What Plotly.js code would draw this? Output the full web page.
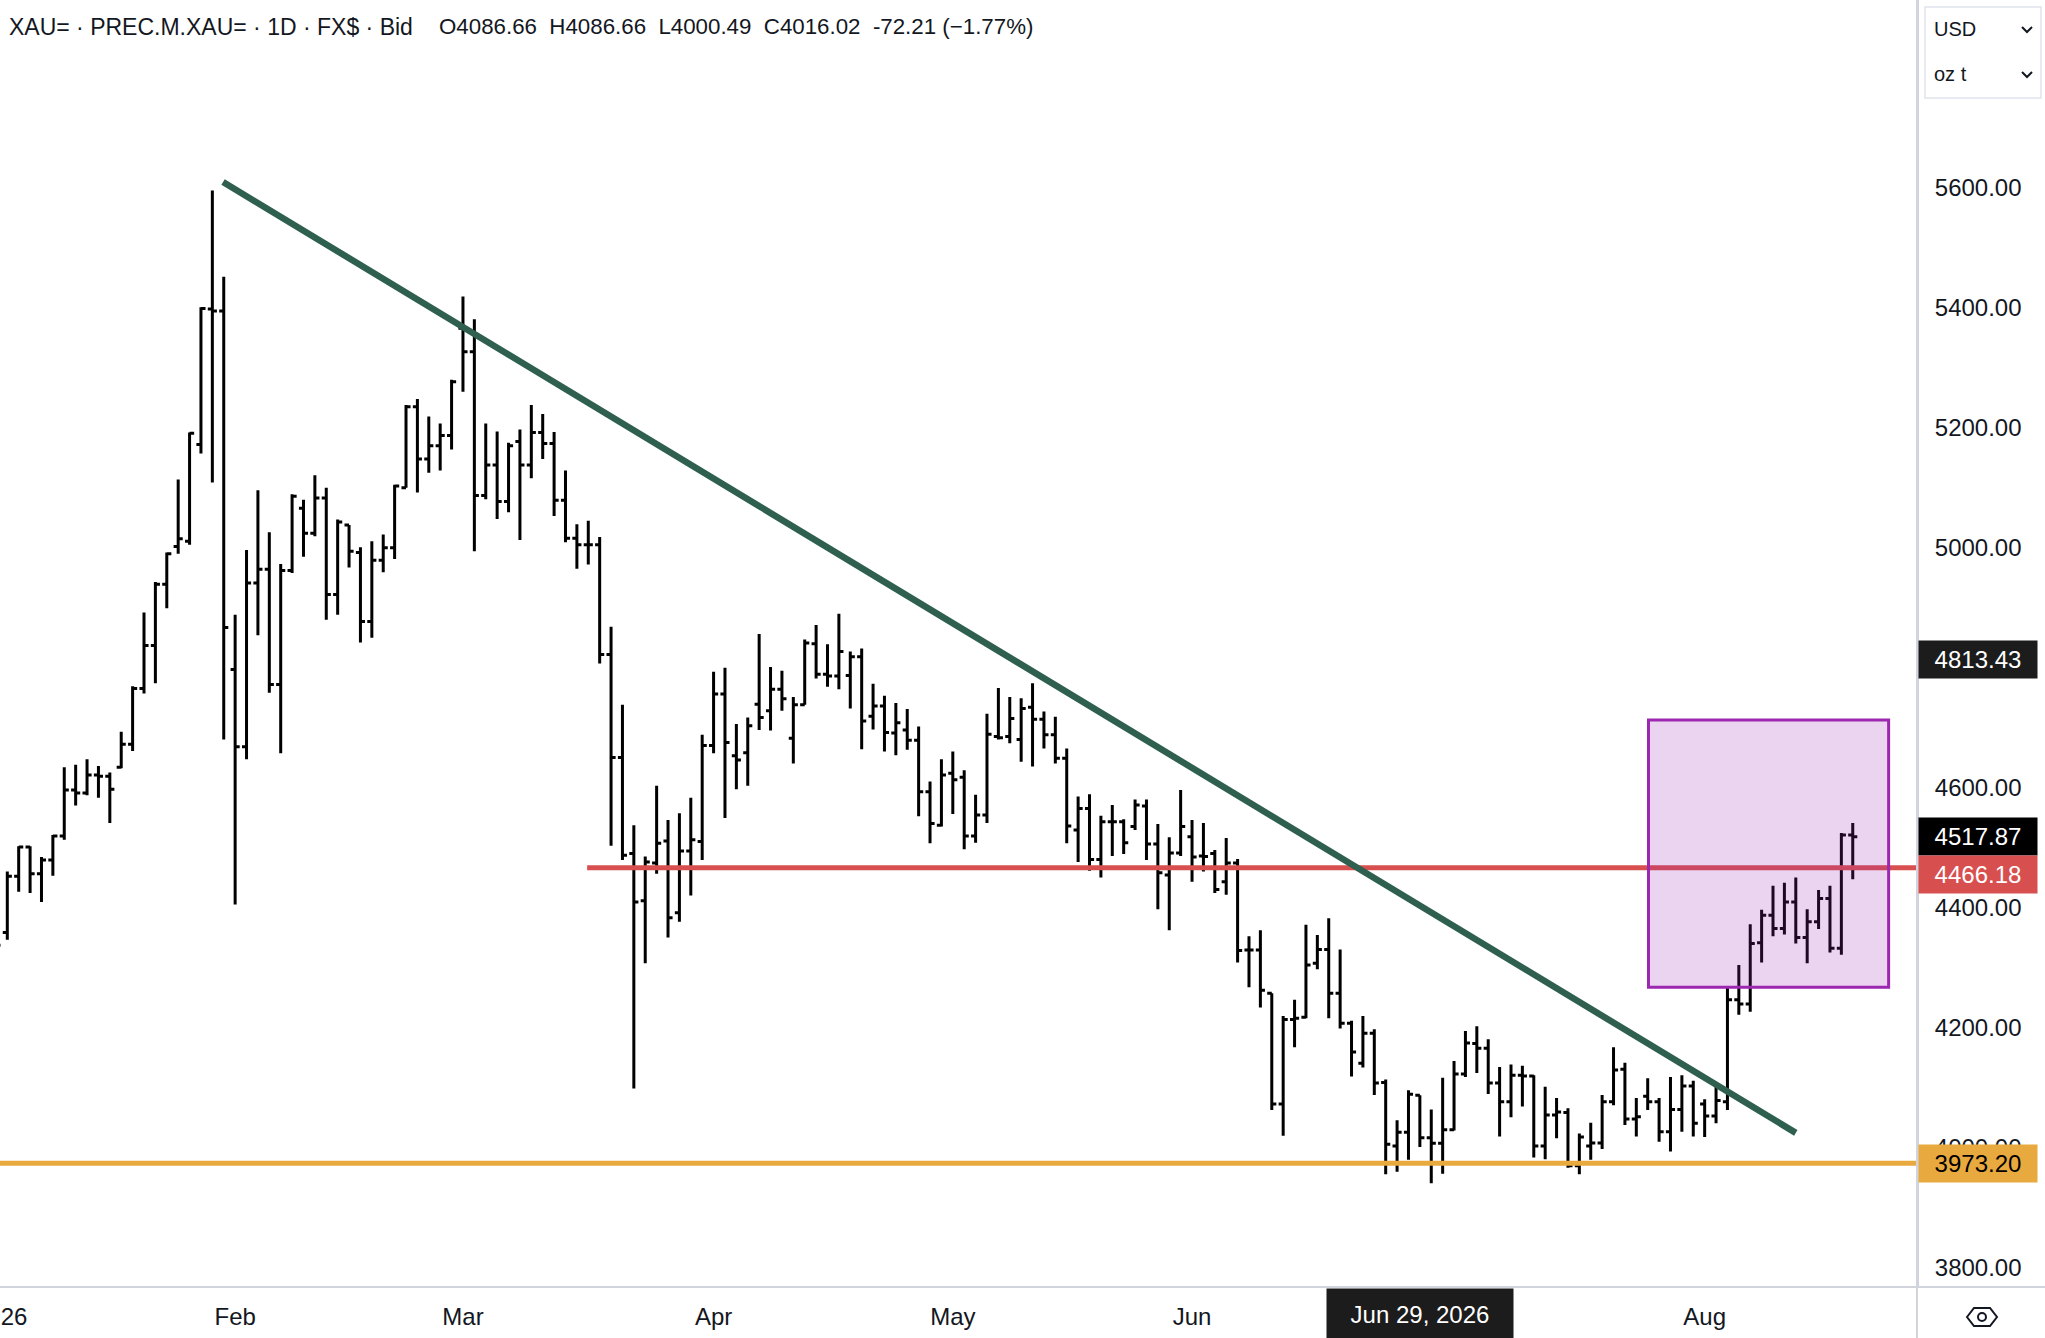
<!DOCTYPE html>
<html>
<head>
<meta charset="utf-8">
<script src="https://cdn.plot.ly/plotly-3.0.1.min.js"></script>
<style>
  html, body { margin: 0; padding: 0; background: #ffffff; }
  #chart { width: 2045px; height: 1338px; }
</style>
</head>
<body>
<div id="chart"></div>
<script>
// ---------------- DATA ----------------
const opens = [
  4320, 4358, 4452, 4501, 4456, 4479, 4519, 4596, 4591, 4621, 4619, 4634, 4672, 4765, 4837, 4939, 5002, 5011, 5172, 5398, 5395,
  4797, 4668, 4941, 4964, 4772, 4962, 5066, 5024, 5083, 4922, 5038, 4992, 4877, 4979, 5000, 5100, 5235, 5148, 5170, 5187,
  5366, 5327, 5087, 5138, 5077, 5177, 5138, 5192, 5174, 5079, 5016, 5005, 5005, 4822, 4650, 4490, 4411, 4474, 4511, 4391, 4494, 4510,
  4670, 4756, 4653, 4658, 4739, 4728, 4764, 4682, 4738, 4840, 4789, 4786, 4787, 4818, 4719, 4736, 4691, 4696, 4679, 4593, 4537,
  4624, 4617, 4519, 4554, 4685, 4685, 4680, 4734, 4714, 4688, 4649, 4529, 4565, 4480, 4543, 4543, 4535, 4569, 4506, 4454, 4491,
  4518, 4486, 4490, 4443, 4474, 4329, 4329, 4257, 4072, 4213, 4217, 4307, 4330, 4257, 4207, 4140, 4190, 4108, 4002, 4025, 4086.66, 4016,
  4006.5, 4029, 4122, 4173, 4165, 4107, 4076, 4120, 4119, 4002, 4054, 4058, 3969, 4002, 4007, 4076, 4130, 4047, 4085, 4076, 4026, 4063, 4102,
  4072, 4052, 4076, 4246, 4239, 4341, 4387, 4365, 4409, 4350, 4376, 4415, 4332, 4521
];
const highs = [
  4365, 4460, 4502, 4502, 4484, 4521, 4634, 4638, 4647, 4636, 4625, 4693, 4769, 4892, 4943, 4992, 5114, 5192, 5401, 5596, 5452,
  4888, 4996, 5096, 5026, 4973, 5089, 5080, 5121, 5100, 5047, 5038, 5001, 5011, 5022, 5105, 5238, 5248, 5219, 5207, 5280,
  5419, 5381, 5207, 5194, 5175, 5197, 5238, 5223, 5193, 5129, 5039, 5045, 5018, 4868, 4738, 4537, 4485, 4603, 4546, 4557, 4583, 4688,
  4793, 4800, 4706, 4717, 4856, 4801, 4795, 4751, 4847, 4871, 4839, 4890, 4827, 4832, 4773, 4753, 4741, 4731, 4702, 4610, 4647,
  4660, 4629, 4588, 4723, 4766, 4751, 4749, 4774, 4727, 4718, 4665, 4585, 4589, 4553, 4571, 4547, 4580, 4580, 4539, 4517, 4596,
  4546, 4541, 4496, 4516, 4481, 4352, 4362, 4257, 4219, 4246, 4371, 4354, 4382, 4330, 4211, 4219, 4197, 4113, 4045, 4095, 4086.66, 4063,
  4116, 4144, 4194, 4202, 4180, 4134, 4138, 4136, 4120, 4101, 4082, 4065, 4023, 4041, 4087, 4167, 4141, 4082, 4115, 4082, 4117, 4120, 4111,
  4080, 4108, 4268, 4304, 4372, 4396, 4436, 4441, 4450, 4397, 4429, 4436, 4524, 4541
];
const lows = [
  4300, 4346, 4426, 4424, 4409, 4453, 4513, 4570, 4587, 4583, 4541, 4632, 4661, 4757, 4774, 4899, 4990, 5005, 5157, 5109, 4680,
  4405, 4647, 4854, 4758, 4657, 4958, 4985, 5019, 4880, 4888, 4967, 4842, 4850, 4959, 4981, 5100, 5092, 5125, 5129, 5164,
  5260, 4994, 5081, 5048, 5059, 5013, 5116, 5148, 5053, 5009, 4965, 4972, 4807, 4503, 4479, 4098, 4307, 4456, 4350, 4376, 4420, 4479,
  4657, 4549, 4597, 4603, 4696, 4695, 4728, 4640, 4738, 4782, 4768, 4764, 4732, 4664, 4697, 4660, 4654, 4663, 4552, 4507, 4535,
  4556, 4497, 4508, 4541, 4680, 4674, 4643, 4635, 4665, 4640, 4507, 4476, 4461, 4450, 4486, 4489, 4529, 4479, 4397, 4362, 4486,
  4443, 4460, 4424, 4421, 4308, 4267, 4233, 4062, 4019, 4167, 4215, 4297, 4215, 4198, 4118, 4133, 4087, 3955, 3959, 3979, 4000.49, 3940,
  3956, 4028, 4117, 4124, 4089, 4018, 4050, 4068, 3983, 3980, 4015, 3966, 3955, 3979, 3997, 4070, 4037, 4018, 4062, 4009, 3993, 4026, 4018,
  4017, 4040, 4062, 4221, 4226, 4308, 4352, 4355, 4340, 4307, 4364, 4325, 4321, 4447
];
const closes = [
  4337, 4452, 4501, 4456, 4479, 4519, 4596, 4591, 4621, 4619, 4597, 4672, 4765, 4837, 4939, 4990, 5015, 5191, 5399, 5395, 4867,
  4668, 4941, 4964, 4772, 4962, 5086, 5024, 5083, 4922, 5043, 4994, 4877, 4979, 5000, 5103, 5235, 5148, 5170, 5187, 5277,
  5327, 5087, 5138, 5077, 5170, 5138, 5192, 5174, 5079, 5016, 5005, 5005, 4822, 4650, 4487, 4409, 4476, 4507, 4383, 4494, 4513, 4670,
  4756, 4675, 4646, 4703, 4717, 4764, 4748, 4738, 4841, 4789, 4786, 4827, 4818, 4711, 4736, 4692, 4708, 4679, 4593, 4540, 4621,
  4613, 4519, 4554, 4689, 4683, 4715, 4732, 4714, 4688, 4649, 4536, 4565, 4480, 4543, 4543, 4508, 4571, 4506, 4458, 4491, 4535,
  4484, 4485, 4430, 4474, 4328, 4329, 4262, 4072, 4213, 4215, 4304, 4330, 4257, 4207, 4159, 4190, 4107, 4005, 4025, 4088.23, 4016.02, 4006.5,
  4029, 4122, 4174, 4165, 4107, 4076, 4120, 4119, 4002, 4054, 4059, 3969, 4017, 4007, 4076, 4129, 4047, 4051, 4076, 4026, 4063, 4102, 4040,
  4052, 4078, 4246, 4239, 4340, 4387, 4365, 4409, 4350, 4376, 4415, 4332, 4521, 4517.87
];

// trading-day categories (weekdays from 2 Jan 2026, market holidays skipped)
const firstDay = '2026-01-02';
const holidays = ['2026-04-03'];
const dates = [];
(function () {
  const d = new Date(firstDay + 'T00:00:00Z');
  while (dates.length < closes.length) {
    const s = d.toISOString().slice(0, 10);
    const wd = d.getUTCDay();
    if (wd !== 0 && wd !== 6 && holidays.indexOf(s) < 0) dates.push(s);
    d.setUTCDate(d.getUTCDate() + 1);
  }
})();

const monthTickDates = ['2026-02-02', '2026-03-02', '2026-04-01', '2026-05-01', '2026-06-01', '2026-08-03'];
const monthTickLabels = ['Feb', 'Mar', 'Apr', 'May', 'Jun', 'Aug'];
const priceTicks = [3800, 4000, 4200, 4400, 4600, 4800, 5000, 5200, 5400, 5600];

const crosshairDate = '2026-06-29';
const crosshairLabel = 'Jun 29, 2026';
const symbolText = 'XAU= \u00b7 PREC.M.XAU= \u00b7 1D \u00b7 FX$ \u00b7 Bid';

// drawings (data space: x = bar index, y = price)
const trendLine = { x: [19.94, 158.0], y: [5610, 4024] };
const resistanceLevel = 4466.18;
const resistanceStart = 51.9;
const supportLevel = 3973.20;
const markerLevel = 4813.43;
const boxX = [145.07, 166.15];
const boxY = [4266.7, 4712.6];

// ---------------- LAYOUT HELPERS ----------------
const W = 2045, H = 1338;
const PW = 1917, PH = 1287;            // plot area in pixels
const XR = [0.359, 168.64];
const YR = [3766.9, 5913.6];
const px = x => x / PW;
const py = y => (PH - y) / PH;
const FONT = 'Liberation Sans, Arial, sans-serif';
const TXT = '#131722';

const lastClose = closes[closes.length - 1];
const ci = dates.indexOf(crosshairDate);
const chg = closes[ci] - closes[ci - 1];
const pct = chg / closes[ci - 1] * 100;
const f2 = v => v.toFixed(2);
const ohlcText = 'O' + f2(opens[ci]) + '  H' + f2(highs[ci]) + '  L' + f2(lows[ci]) + '  C' + f2(closes[ci]) +
  '  ' + f2(chg) + ' (' + (pct < 0 ? '\u2212' : '+') + Math.abs(pct).toFixed(2) + '%)';

const trace = {
  type: 'ohlc',
  x: dates, open: opens, high: highs, low: lows, close: closes,
  increasing: { line: { color: '#000000', width: 3 } },
  decreasing: { line: { color: '#000000', width: 3 } },
  tickwidth: 0.4,
  hoverinfo: 'skip',
  showlegend: false
};

function priceTag(v, bg, fg, yshift) {
  return {
    xref: 'paper', yref: 'y', x: 1, y: v, xanchor: 'left', yanchor: 'middle',
    xshift: 1, yshift: yshift || 0,
    text: f2(v), showarrow: false,
    font: { family: FONT, size: 24, color: fg },
    bgcolor: bg, borderpad: 0, width: 118, height: 37, align: 'center'
  };
}

const shapes = [
  // support (orange) line
  { type: 'line', xref: 'x', yref: 'y', x0: XR[0], x1: XR[1], y0: supportLevel, y1: supportLevel,
    line: { color: '#e8a93f', width: 5 } },
  // resistance (red) line
  { type: 'line', xref: 'x', yref: 'y', x0: resistanceStart, x1: XR[1], y0: resistanceLevel, y1: resistanceLevel,
    line: { color: '#d84f4f', width: 5 } },
  // trend line
  { type: 'line', xref: 'x', yref: 'y', x0: trendLine.x[0], x1: trendLine.x[1], y0: trendLine.y[0], y1: trendLine.y[1],
    line: { color: '#2e5f4f', width: 6.5 } },
  // rectangle
  { type: 'rect', xref: 'x', yref: 'y', x0: boxX[0], x1: boxX[1], y0: boxY[0], y1: boxY[1],
    fillcolor: 'rgba(156,39,176,0.2)', line: { color: '#9c27b0', width: 3 } },
  // frame lines
  { type: 'line', xref: 'paper', yref: 'paper', x0: 0, x1: px(W), y0: 0, y1: 0,
    line: { color: '#d1d4dc', width: 2 } },
  { type: 'line', xref: 'paper', yref: 'paper', x0: 1, x1: 1, y0: 1, y1: py(H),
    line: { color: '#d1d4dc', width: 2 } },
  // currency / unit box
  { type: 'rect', xref: 'paper', yref: 'paper', x0: px(1925), x1: px(2041), y0: py(98), y1: py(7),
    fillcolor: '#ffffff', line: { color: '#e0e3eb', width: 1.5 } },
  { type: 'path', xref: 'paper', yref: 'paper',
    path: `M${px(2022)},${py(27)} L${px(2027)},${py(32)} L${px(2032)},${py(27)}`,
    line: { color: TXT, width: 2 } },
  { type: 'path', xref: 'paper', yref: 'paper',
    path: `M${px(2022)},${py(72)} L${px(2027)},${py(77)} L${px(2032)},${py(72)}`,
    line: { color: TXT, width: 2 } },
  // settings (eye) icon at bottom right
  { type: 'path', xref: 'paper', yref: 'paper',
    path: `M${px(1967)},${py(1317)} L${px(1974)},${py(1308)} L${px(1990)},${py(1308)} L${px(1997)},${py(1317)} L${px(1990)},${py(1326)} L${px(1974)},${py(1326)} Z`,
    line: { color: TXT, width: 2 } },
  { type: 'circle', xref: 'paper', yref: 'paper', x0: px(1978), x1: px(1986), y0: py(1321), y1: py(1313),
    line: { color: TXT, width: 2 } }
];

const annotations = [
  { xref: 'paper', yref: 'paper', x: px(7), y: py(27), xanchor: 'left', yanchor: 'middle',
    text: symbolText, showarrow: false, font: { family: FONT, size: 23, color: TXT } },
  { xref: 'paper', yref: 'paper', x: px(437), y: py(27), xanchor: 'left', yanchor: 'middle',
    text: ohlcText, showarrow: false, font: { family: FONT, size: 22.3, color: TXT } },
  // year label at the left edge
  { xref: 'paper', yref: 'paper', x: 0, y: py(1316), xanchor: 'center', yanchor: 'middle',
    text: '2026', showarrow: false, font: { family: FONT, size: 24, color: TXT } },
  // crosshair date label
  { xref: 'x', yref: 'paper', x: ci, y: 0, xanchor: 'center', yanchor: 'top', yshift: -1,
    text: crosshairLabel, showarrow: false, font: { family: FONT, size: 24, color: '#ffffff' },
    bgcolor: '#1c1c1c', borderpad: 0, width: 186, height: 50, align: 'center' },
  // currency box texts
  { xref: 'paper', yref: 'paper', x: px(1932), y: py(29), xanchor: 'left', yanchor: 'middle',
    text: 'USD', showarrow: false, font: { family: FONT, size: 20, color: TXT } },
  { xref: 'paper', yref: 'paper', x: px(1932), y: py(74), xanchor: 'left', yanchor: 'middle',
    text: 'oz t', showarrow: false, font: { family: FONT, size: 20, color: TXT } },
  // price tags on the axis
  priceTag(markerLevel, '#1c1c1c', '#ffffff'),
  priceTag(lastClose, '#000000', '#ffffff'),
  priceTag(resistanceLevel, '#d84f4f', '#ffffff', -7),
  priceTag(supportLevel, '#e8a93f', '#000000')
];

const layout = {
  width: W, height: H,
  margin: { l: 0, r: W - PW, t: 0, b: H - PH, pad: 0 },
  paper_bgcolor: '#ffffff', plot_bgcolor: '#ffffff',
  font: { family: FONT, color: TXT },
  showlegend: false,
  dragmode: false,
  xaxis: {
    type: 'category', range: XR, rangeslider: { visible: false },
    tickvals: monthTickDates, ticktext: monthTickLabels,
    tickfont: { family: FONT, size: 24, color: TXT },
    showgrid: false, zeroline: false, showline: false, ticks: '',
    ticklabelstandoff: 13, automargin: false
  },
  yaxis: {
    side: 'right', range: YR, tickvals: priceTicks, ticktext: priceTicks.map(f2),
    tickfont: { family: FONT, size: 24, color: TXT },
    showgrid: false, zeroline: false, showline: true, linecolor: '#d1d4dc', linewidth: 2,
    ticks: '', ticklabelstandoff: 11, automargin: false
  },
  shapes: shapes,
  annotations: annotations
};

Plotly.newPlot('chart', [trace], layout, { staticPlot: true, displayModeBar: false });
</script>
</body>
</html>
